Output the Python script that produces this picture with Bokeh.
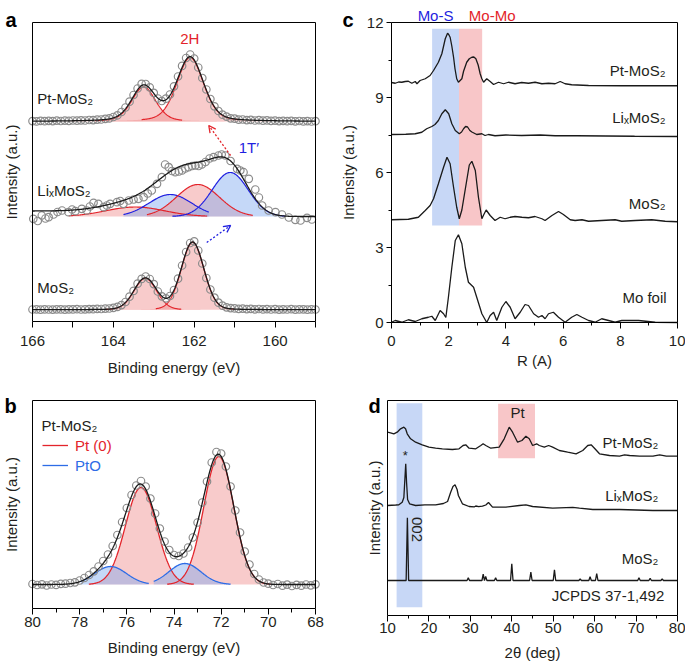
import numpy as np
from bokeh.plotting import figure
from bokeh.layouts import column, row
from bokeh.models import (Range1d, FixedTicker, Label, Arrow, OpenHead, Legend, LegendItem,
                          LinearAxis)
from bokeh.embed import file_html
from bokeh.resources import INLINE

FONT = "Liberation Sans"
TXT = "#231f20"
LINE = "#1a1a1a"
RED = "#e3242b"
BLUE_A = "#1f1fe0"
BLUE_B = "#2d6ce6"
CIRC = "#8c8c8c"
PINK = "#f08c8c"
LBLUE = "#7fa8ef"

# ---------------- panel a : S 2p XPS ----------------
a_x_ticks = [166, 164, 162, 160]
a_x_minor = [165, 163, 161, 159]
a_circle_energy = np.linspace(166.0, 159.0, 71)
a_pt_counts = [200.4, 200.1, 200.6, 200.3, 200.7, 200.4, 200.8, 200.5, 200.9, 200.6,
               201.0, 200.8, 201.2, 201.0, 201.5, 201.4, 201.9, 202.0, 202.6, 203.1,
               204.5, 206.2, 209.5, 214.0, 219.8, 226.5, 233.0, 237.6, 237.5, 234.2,
               228.6, 223.0, 220.5, 222.8, 227.0, 235.2, 245.0, 255.6, 263.5, 267.0,
               263.0, 254.0, 243.5, 232.0, 222.5, 215.2, 210.5, 206.8, 204.9, 203.2,
               202.8, 201.9, 202.0, 201.4, 201.6, 201.0, 201.3, 200.8, 201.1, 200.6,
               200.9, 200.4, 200.7, 200.3, 200.6, 200.2, 200.5, 200.1, 200.4, 200.0, 200.3]
a_mos_counts = [12.0, 12.2, 11.8, 12.1, 12.0, 11.9, 12.2, 12.1, 11.9, 12.2,
                12.1, 12.3, 12.0, 12.2, 12.4, 12.3, 12.6, 12.5, 12.9, 13.0,
                13.6, 14.6, 16.4, 19.5, 24.8, 30.6, 37.8, 42.6, 45.0, 42.5,
                37.4, 30.0, 25.2, 23.2, 25.5, 31.5, 42.8, 56.0, 69.5, 78.5,
                80.2, 71.0, 58.0, 43.5, 32.0, 23.8, 18.8, 15.8, 14.2, 13.4,
                13.1, 12.6, 12.8, 12.4, 12.6, 12.2, 12.5, 12.1, 12.4, 12.0,
                12.3, 11.9, 12.2, 12.0, 12.3, 11.9, 12.1, 12.2, 11.8, 12.1, 12.0]
a_li_energy = [165.98, 165.87, 165.77, 165.68, 165.60, 165.48, 165.38, 165.27, 165.11, 165.02,
               164.94, 164.78, 164.66, 164.58, 164.49, 164.37, 164.24, 164.16, 164.08, 163.91,
               163.83, 163.75, 163.62, 163.50, 163.38, 163.25, 163.15, 163.05, 162.92, 162.80,
               162.72, 162.63, 162.55, 162.47, 162.38, 162.30, 162.22, 162.14, 162.05, 161.97,
               161.89, 161.81, 161.72, 161.62, 161.52, 161.40, 161.32, 161.23, 161.10, 160.94,
               160.86, 160.78, 160.65, 160.49, 160.40, 160.32, 160.16, 159.99, 159.83, 159.66,
               159.50, 159.37, 159.21, 159.09]
a_li_counts = [102.7, 100.5, 106.0, 103.0, 104.3, 107.0, 109.5, 111.0, 109.3, 112.0,
               110.3, 112.7, 111.0, 115.0, 118.7, 117.7, 114.3, 116.0, 117.7, 119.3,
               120.5, 117.7, 121.0, 122.0, 122.7, 124.3, 128.0, 131.0, 137.7, 144.3,
               157.0, 154.3, 150.5, 149.3, 150.0, 151.0, 153.0, 154.3, 155.5, 156.0,
               155.5, 157.0, 159.5, 163.0, 164.3, 166.0, 167.0, 166.0, 160.5, 152.7,
               151.0, 149.3, 142.7, 132.0, 124.0, 116.0, 111.0, 109.3, 107.0, 104.0,
               101.7, 101.0, 103.7, 102.0]

# fitted components: centre (eV), height, FWHM (eV), Lorentzian fraction, drawn from / to (eV)
a_pt_base = 200.0
a_pt_center = [162.10, 163.25]
a_pt_height = [64.0, 34.6]
a_pt_fwhm = [0.78, 0.70]
a_pt_eta = [0.3, 0.3]
a_pt_from = [163.30, 164.45]
a_pt_to = [160.90, 162.30]

a_mos_base = 11.7
a_mos_center = [162.04, 163.21]
a_mos_height = [67.6, 31.5]
a_mos_fwhm = [0.66, 0.66]
a_mos_eta = [0.1, 0.1]
a_mos_from = [162.95, 164.20]
a_mos_to = [161.00, 162.32]

a_li_base = 105.0
a_li_step = 5.5
a_li_center = [163.46, 162.59, 161.91, 161.11]
a_li_height = [9.5, 22.0, 32.0, 44.0]
a_li_fwhm = [1.7, 1.25, 1.25, 1.05]
a_li_eta = [0.0, 0.0, 0.0, 0.0]
a_li_phase = ["2H", "1T'", "2H", "1T'"]
a_li_from = [165.10, 163.75, 163.17, 162.54]
a_li_to = [161.68, 161.64, 160.55, 159.75]

# ---------------- panel b : Pt 4f XPS ----------------
b_x_ticks = [80, 78, 76, 74, 72, 70, 68]
b_x_minor = [79, 77, 75, 73, 71, 69]
b_circle_energy = np.linspace(80.0, 68.0, 61)
b_counts = [24.5, 23.5, 24.2, 23.0, 24.0, 23.6, 24.6, 24.8, 25.5, 26.2,
            28.0, 30.5, 33.5, 37.2, 42.0, 47.5, 54.0, 62.5, 73.5, 86.5,
            100.5, 113.5, 123.0, 127.5, 122.0, 110.0, 95.0, 80.0, 67.0, 58.5,
            53.5, 52.5, 55.0, 61.0, 71.0, 86.0, 106.0, 127.0, 146.0, 156.5,
            155.0, 142.0, 122.0, 98.0, 76.0, 57.0, 44.0, 34.5, 29.0, 26.0,
            24.8, 23.5, 24.5, 22.8, 23.8, 22.5, 23.6, 22.8, 24.0, 23.2, 24.2]
b_base = 24.0
b_center = [72.10, 75.40, 76.69, 73.54]
b_height = [128.0, 97.0, 18.0, 21.0]
b_fwhm = [1.50, 1.55, 1.60, 1.60]
b_species = ["Pt (0)", "Pt (0)", "PtO", "PtO"]
b_from = [74.29, 77.61, 77.96, 74.86]
b_to = [69.90, 73.16, 75.07, 71.60]

# ---------------- panel c : EXAFS ----------------
c_y_ticks = [0, 3, 6, 9, 12]
c_y_minor = [1.5, 4.5, 7.5, 10.5]
c_x_ticks = [0, 2, 4, 6, 8, 10]
c_x_minor = [1, 3, 5, 7, 9]
c_pt_r = [0.0, 0.13, 0.25, 0.36, 0.48, 0.59, 0.71, 0.83, 0.89, 1.00, 1.18, 1.35, 1.47, 1.64, 1.76,
          1.82, 1.88, 1.96, 2.00, 2.05, 2.11, 2.17, 2.22, 2.28, 2.34, 2.46, 2.52, 2.63, 2.72, 2.81,
          2.88, 2.95, 3.03, 3.10, 3.16, 3.22, 3.33, 3.45, 3.57, 3.74, 3.92, 4.09, 4.32, 4.55, 4.79,
          5.02, 5.26, 5.49, 5.72, 5.90, 6.07, 6.30, 6.89, 8.05, 10.0]
c_pt_y = [9.60, 9.57, 9.62, 9.61, 9.64, 9.65, 9.57, 9.64, 9.55, 9.68, 9.75, 9.88, 10.08, 10.41, 10.75,
          11.05, 11.35, 11.57, 11.52, 11.41, 11.05, 10.61, 10.15, 9.75, 9.61, 9.75, 10.05, 10.41, 10.55, 10.61,
          10.62, 10.55, 10.30, 9.95, 9.75, 9.61, 9.75, 9.64, 9.52, 9.61, 9.55, 9.61, 9.55, 9.60, 9.57,
          9.61, 9.55, 9.57, 9.55, 9.64, 9.55, 9.51, 9.48, 9.47, 9.47]
c_li_r = [0.0, 0.5, 0.83, 1.06, 1.23, 1.41, 1.52, 1.64, 1.76, 1.88, 2.00, 2.11, 2.23, 2.37, 2.45,
          2.52, 2.59, 2.66, 2.74, 2.81, 2.98, 3.16, 3.27, 3.39, 3.62, 4.0, 4.55, 5.2, 5.72, 6.5,
          7.5, 8.5, 10.0]
c_li_y = [7.52, 7.53, 7.55, 7.61, 7.75, 7.84, 7.92, 8.08, 8.35, 8.51, 8.35, 7.95, 7.68, 7.55, 7.62,
          7.75, 7.84, 7.82, 7.68, 7.62, 7.52, 7.55, 7.48, 7.52, 7.47, 7.50, 7.48, 7.50, 7.47, 7.47,
          7.46, 7.45, 7.44]
c_mos_r = [0.0, 0.59, 0.94, 1.18, 1.35, 1.47, 1.64, 1.82, 1.94, 2.05, 2.17, 2.28, 2.37, 2.46, 2.63,
           2.72, 2.81, 2.93, 3.04, 3.16, 3.22, 3.31, 3.45, 3.62, 3.80, 3.97, 4.15, 4.32, 4.56, 4.79,
           5.02, 5.26, 5.37, 5.61, 5.84, 6.01, 6.25, 6.42, 6.66, 6.89, 7.35, 7.82, 8.05, 8.52, 9.10,
           9.57, 10.0]
c_mos_y = [4.11, 4.13, 4.21, 4.48, 4.68, 4.95, 5.55, 6.21, 6.61, 6.35, 5.41, 4.61, 4.15, 4.50, 5.68,
           6.30, 6.45, 6.08, 5.01, 4.15, 4.30, 4.50, 4.28, 4.08, 4.21, 4.15, 4.21, 4.24, 4.21, 4.19,
           4.24, 4.15, 4.08, 4.28, 4.44, 4.32, 4.11, 4.08, 4.11, 4.05, 4.08, 4.11, 4.05, 4.08, 4.11,
           4.05, 4.03]
c_mo_r = [0.0, 0.13, 0.36, 0.59, 0.83, 1.06, 1.29, 1.41, 1.53, 1.70, 1.82, 1.90, 1.99, 2.11, 2.23,
          2.34, 2.46, 2.58, 2.69, 2.87, 2.98, 3.16, 3.33, 3.45, 3.57, 3.68, 3.86, 4.0, 4.15, 4.32,
          4.50, 4.67, 4.79, 4.97, 5.14, 5.26, 5.37, 5.49, 5.66, 5.84, 6.07, 6.30, 6.48, 6.66, 6.89,
          7.12, 7.35, 7.59, 7.82, 8.05, 8.29, 8.64, 9.22, 10.0]
c_mo_y = [0.01, 0.08, 0.01, 0.11, 0.04, 0.15, 0.21, 0.25, 0.08, 0.48, 0.35, 0.20, 1.01, 2.21, 3.28,
          3.51, 3.15, 2.21, 1.61, 1.41, 1.01, 0.35, 0.0, 0.28, 0.41, 0.08, 0.61, 0.84, 0.61, 0.15,
          0.41, 0.72, 0.68, 0.35, 0.21, 0.28, 0.15, 0.35, 0.41, 0.21, 0.01, 0.21, 0.32, 0.21, 0.08,
          0.01, 0.15, 0.08, 0.01, 0.08, 0.08, 0.08, 0.01, 0.0]
c_band_mos = [1.42, 2.36]
c_band_momo = [2.36, 3.17]
c_band_y = [3.88, 11.75]

# ---------------- panel d : XRD ----------------
d_x_ticks = [10, 20, 30, 40, 50, 60, 70, 80]
d_x_minor = [15, 25, 35, 45, 55, 65, 75]
d_pt_tt = [10, 10.73, 11.53, 12.34, 13.15, 13.95, 14.36, 14.76, 15.57, 16.78, 18.39, 20.01, 21.62, 23.24, 25.66,
           27.27, 28.24, 28.89, 29.69, 31.31, 32.52, 33.08, 33.73, 34.94, 36.96, 38.17, 39.38, 40.19, 41.40, 42.45,
           43.41, 44.22, 45.03, 46.0, 46.64, 47.85, 48.9, 49.87, 51.48, 53.5, 55.52, 57.13, 58.34, 59.15, 59.96,
           61.17, 63.59, 66.01, 67.22, 68.43, 70.85, 74.07, 75.69, 77.3, 80]
d_pt_y = [183.3, 182.7, 181.7, 183.3, 186.7, 188.3, 186.7, 181.7, 176.7, 173.3, 170.7, 168.3, 167.3, 166.7, 166.0,
          166.7, 170.0, 170.7, 167.3, 166.7, 170.0, 171.7, 170.0, 167.3, 168.3, 176.7, 188.3, 183.3, 173.3, 175.0,
          179.3, 176.7, 170.0, 171.7, 170.0, 168.3, 170.0, 168.3, 165.0, 163.3, 161.7, 165.0, 170.0, 170.7, 167.3,
          161.7, 160.0, 159.3, 160.7, 160.0, 159.3, 159.3, 160.7, 159.3, 159.3]
d_li_tt = [10, 12.0, 12.74, 13.55, 13.95, 14.2, 14.4, 14.6, 14.85, 15.33, 16.78, 19.0, 21.62, 23.5, 24.5,
           25.25, 25.8, 26.3, 26.8, 27.11, 28.08, 29.69, 31.0, 31.31, 32.0, 32.92, 33.73, 34.38, 35.35, 38.58,
           41.81, 43.41, 45.03, 49.87, 54.71, 56.33, 59.56, 66.01, 74.07, 80]
d_li_y = [110.0, 110.5, 110.7, 113.3, 118.0, 136.7, 151.7, 133.3, 116.0, 111.7, 110.0, 110.7, 110.7, 112.0, 114.0,
          123.3, 129.0, 130.7, 126.0, 120.0, 111.7, 109.0, 108.7, 109.5, 108.8, 109.3, 110.5, 113.0, 108.3, 108.3,
          110.0, 110.7, 109.0, 107.3, 108.2, 107.3, 106.0, 106.0, 105.0, 105.0]
d_mos_base = 35.0
d_mos_peak_pos = [14.8, 29.5, 33.1, 33.7, 36.1, 40.0, 44.6, 50.3, 56.5, 58.9, 60.5, 70.7, 73.4, 76.3]
d_mos_peak_top = [97.7, 37.7, 41.3, 39.0, 37.7, 51.7, 43.3, 45.7, 36.7, 38.7, 42.0, 37.7, 37.3, 36.7]
d_band_002 = [12.2, 18.4]
d_band_002_y = [8.3, 212.3]
d_band_pt = [36.7, 45.6]
d_band_pt_y = [157.3, 211.7]


def pv(x, c, h, w, eta):
    r2 = 4.0 * ((np.asarray(x) - c) / w) ** 2
    return h * ((1.0 - eta) * np.exp(-np.log(2.0) * r2) + eta / (1.0 + r2))


def style_axis(ax, tick_out=6, minor_out=4, lab_so=3, title_so=8):
    ax.axis_line_color = "black"
    ax.major_tick_line_color = "black"
    ax.minor_tick_line_color = "black"
    ax.major_tick_in = 0
    ax.minor_tick_in = 0
    ax.major_tick_out = tick_out
    ax.minor_tick_out = minor_out
    ax.major_label_text_font = FONT
    ax.major_label_text_font_size = "15px"
    ax.major_label_text_color = TXT
    ax.axis_label_text_font = FONT
    ax.axis_label_text_font_size = "15px"
    ax.axis_label_text_font_style = "normal"
    ax.axis_label_text_color = TXT
    ax.major_label_standoff = lab_so
    ax.axis_label_standoff = title_so


def panel(W, H, box_x, box_px, box_y, box_py):
    """Figure whose plotting frame fills the whole canvas; the boxed plot area
    box_x (left value, right value) sits at pixels box_px, box_y (bottom, top) at box_py."""
    (x0, x1), (px0, px1) = box_x, box_px
    (y0, y1), (py0, py1) = box_y, box_py
    sx = (px1 - px0) / (x1 - x0)
    sy = (py0 - py1) / (y1 - y0)
    xr = Range1d(x0 - px0 / sx, x1 + (W - px1) / sx)
    yr = Range1d(y0 - (H - py0) / sy, y1 + py1 / sy)
    p = figure(width=W, height=H, x_range=xr, y_range=yr, min_border=0, title=None,
               output_backend="svg", toolbar_location=None, tools="")
    p.xgrid.visible = False
    p.ygrid.visible = False
    p.outline_line_color = None
    p.background_fill_color = "white"
    p.border_fill_color = "white"
    xa, ya = p.below[0], p.left[0]
    xa.fixed_location = y0
    xa.bounds = (min(x0, x1), max(x0, x1))
    ya.fixed_location = x0
    ya.bounds = (y0, y1)
    style_axis(xa)
    style_axis(ya)
    top = LinearAxis(fixed_location=y1, bounds=(min(x0, x1), max(x0, x1)), ticker=FixedTicker(ticks=[]),
                     major_tick_line_color=None, minor_tick_line_color=None, axis_line_color="black")
    right = LinearAxis(fixed_location=x1, bounds=(y0, y1), ticker=FixedTicker(ticks=[]),
                       major_tick_line_color=None, minor_tick_line_color=None, axis_line_color="black")
    p.add_layout(top, "above")
    p.add_layout(right, "right")
    return p, xa, ya


def no_y_ticks(ya, standoff):
    ya.ticker = FixedTicker(ticks=[])
    ya.major_tick_line_color = None
    ya.minor_tick_line_color = None
    ya.major_tick_out = 0
    ya.minor_tick_out = 0
    ya.major_label_standoff = 0
    ya.axis_label = "Intensity (a.u.)"
    ya.axis_label_standoff = standoff


def lab(p, x, y, text, color=TXT, size="15px", align="left", baseline="middle", bold=False, angle=0.0):
    p.add_layout(Label(x=x, y=y, text=text, text_color=color, text_font=FONT, text_font_size=size,
                       text_align=align, text_baseline=baseline,
                       text_font_style="bold" if bold else "normal", angle=angle))


# ================= panel a =================
pa, pa_x, pa_y = panel(340, 380, (166, 159), (32, 315), (0, 299), (321, 22))
pa_x.ticker = FixedTicker(ticks=a_x_ticks, minor_ticks=a_x_minor)
pa_x.minor_tick_out = 6
pa_x.major_label_standoff = 8
pa_x.axis_label_standoff = 10
pa_x.axis_label = "Binding energy (eV)"
no_y_ticks(pa_y, 13)

xg = np.linspace(166.0, 159.0, 701)


def draw_a(base, centers, heights, fwhms, etas, froms, tos, colors, widefill, step=0.0):
    total = np.zeros_like(xg)
    for c, h, w, e, f, t, col in zip(centers, heights, fwhms, etas, froms, tos, colors):
        fill = PINK if col == RED else LBLUE
        if widefill:
            xf = np.linspace(min(c + 2.0, 166.0), max(c - 2.0, 159.0), 300)
        else:
            xf = np.linspace(f, t, 300)
        pa.varea(x=xf, y1=np.full_like(xf, base), y2=base + pv(xf, c, h, w, e),
                 fill_color=fill, fill_alpha=0.45)
        total += pv(xg, c, h, w, e)
    for c, h, w, e, f, t, col in zip(centers, heights, fwhms, etas, froms, tos, colors):
        xl = np.linspace(f, t, 200)
        pa.line(xl, base + pv(xl, c, h, w, e), line_color=col, line_width=1.2)
    if step:
        cum = np.cumsum(total[::-1])[::-1]
        bg = step * cum / cum[0]
    else:
        bg = 0.0
    return base + total + bg


env_pt = draw_a(a_pt_base, a_pt_center, a_pt_height, a_pt_fwhm, a_pt_eta, a_pt_from, a_pt_to,
                [RED, RED], True)
env_li = draw_a(a_li_base, a_li_center, a_li_height, a_li_fwhm, a_li_eta, a_li_from, a_li_to,
                [RED if ph == "2H" else BLUE_A for ph in a_li_phase], False, a_li_step)
env_mos = draw_a(a_mos_base, a_mos_center, a_mos_height, a_mos_fwhm, a_mos_eta, a_mos_from, a_mos_to,
                 [RED, RED], True)

for ex, cy in [(a_circle_energy, a_pt_counts), (a_li_energy, a_li_counts), (a_circle_energy, a_mos_counts)]:
    pa.scatter(ex, cy, marker="circle", size=7.5, fill_color=None, line_color=CIRC, line_width=1.2)
for env in (env_pt, env_li, env_mos):
    pa.line(xg, env, line_color=LINE, line_width=1.3)

lab(pa, 165.88, 223, "Pt-MoS₂")
lab(pa, 165.88, 131, "LiₓMoS₂")
lab(pa, 165.88, 34, "MoS₂")
lab(pa, 162.11, 283, "2H", color=RED, align="center")
lab(pa, 160.65, 174, "1T′", color=BLUE_A, align="center")
pa.add_layout(Arrow(end=OpenHead(size=7, line_color=RED, line_width=1.3),
                    x_start=161.10, y_start=166, x_end=161.64, y_end=196,
                    line_color=RED, line_width=1.3, line_dash="2 2"))
pa.add_layout(Arrow(end=OpenHead(size=7, line_color=BLUE_A, line_width=1.3),
                    x_start=161.69, y_start=79, x_end=161.10, y_end=96,
                    line_color=BLUE_A, line_width=1.3, line_dash="2 2"))
lab(pa, 166.67, 302, "a", size="20px", bold=True, baseline="alphabetic", color="black")

# ================= panel c =================
pc, pc_x, pc_y = panel(345, 380, (0, 10), (51, 337), (0, 12), (322, 22))
pc_x.ticker = FixedTicker(ticks=c_x_ticks, minor_ticks=c_x_minor)
pc_y.ticker = FixedTicker(ticks=c_y_ticks, minor_ticks=c_y_minor)
pc_y.major_tick_out = 5
pc_y.minor_tick_out = 3
pc_y.axis_label_standoff = 7
pc_x.minor_tick_out = 3
pc_x.major_label_standoff = 7
pc_x.axis_label_standoff = 3
pc_x.axis_label = "R (A)"
pc_y.axis_label = "Intensity (a.u.)"
pc.quad(left=[c_band_mos[0]], right=[c_band_mos[1]], bottom=[c_band_y[0]], top=[c_band_y[1]],
        fill_color="#c7d7f6", line_color=None)
pc.quad(left=[c_band_momo[0]], right=[c_band_momo[1]], bottom=[c_band_y[0]], top=[c_band_y[1]],
        fill_color="#f8c6c8", line_color=None)
for rr, yy in [(c_pt_r, c_pt_y), (c_li_r, c_li_y), (c_mos_r, c_mos_y), (c_mo_r, c_mo_y)]:
    pc.line(rr, yy, line_color=LINE, line_width=1.3)
lab(pc, 9.58, 10.08, "Pt-MoS₂", align="right")
lab(pc, 9.58, 8.2, "LiₓMoS₂", align="right")
lab(pc, 9.58, 4.76, "MoS₂", align="right")
lab(pc, 9.62, 1.0, "Mo foil", align="right")
lab(pc, 1.54, 12.28, "Mo-S", color=BLUE_A, align="center")
lab(pc, 3.52, 12.28, "Mo-Mo", color=RED, align="center")
lab(pc, -1.71, 12.12, "c", size="20px", bold=True, baseline="alphabetic", color="black")

# ================= panel b =================
pb, pb_x, pb_y = panel(340, 286, (80, 68), (32, 315), (0, 208), (228, 20))
pb_x.ticker = FixedTicker(ticks=b_x_ticks, minor_ticks=b_x_minor)
pb_x.major_label_standoff = 2
pb_x.axis_label_standoff = 9
pb_x.axis_label = "Binding energy (eV)"
no_y_ticks(pb_y, 13)
xb = np.linspace(80.0, 68.0, 601)
b_total = np.zeros_like(xb)
b_lines = {}
for c, h, w, sp, f, t in zip(b_center, b_height, b_fwhm, b_species, b_from, b_to):
    xf = np.linspace(f, t, 300)
    pb.varea(x=xf, y1=np.full_like(xf, b_base), y2=b_base + pv(xf, c, h, w, 0.0),
             fill_color=PINK if sp == "Pt (0)" else LBLUE, fill_alpha=0.45)
    b_total += pv(xb, c, h, w, 0.0)
for c, h, w, sp, f, t in zip(b_center, b_height, b_fwhm, b_species, b_from, b_to):
    xl = np.linspace(f, t, 200)
    r = pb.line(xl, b_base + pv(xl, c, h, w, 0.0), line_color=RED if sp == "Pt (0)" else BLUE_B,
                line_width=1.3)
    b_lines.setdefault(sp, r)
pb.scatter(b_circle_energy, b_counts, marker="circle", size=7.5, fill_color=None, line_color=CIRC, line_width=1.2)
pb.line(xb, b_base + b_total, line_color=LINE, line_width=1.3)
lab(pb, 79.62, 183, "Pt-MoS₂")
for sp, loc, col in [("Pt (0)", (42, 211), RED), ("PtO", (42, 191), BLUE_B)]:
    leg = Legend(items=[LegendItem(label=sp, renderers=[b_lines[sp]])], location=loc,
                 background_fill_alpha=0, border_line_alpha=0, padding=0, margin=0, spacing=0,
                 glyph_width=26, glyph_height=20, label_height=20, label_standoff=7,
                 label_text_color=col, label_text_font=FONT, label_text_font_size="15px")
    pb.add_layout(leg)
lab(pb, 81.19, 203, "b", size="20px", bold=True, baseline="alphabetic", color="black")

# ================= panel d =================
pd, pd_x, pd_y = panel(345, 286, (10, 80), (47, 337), (0, 215), (235, 20))
pd_x.ticker = FixedTicker(ticks=d_x_ticks, minor_ticks=d_x_minor)
pd_x.minor_tick_out = 3
pd_x.major_label_standoff = 1
pd_x.axis_label_standoff = 8
pd_x.axis_label = "2θ (deg)"
no_y_ticks(pd_y, 5)
pd.quad(left=[d_band_002[0]], right=[d_band_002[1]], bottom=[d_band_002_y[0]], top=[d_band_002_y[1]],
        fill_color="#c7d7f6", line_color=None)
pd.quad(left=[d_band_pt[0]], right=[d_band_pt[1]], bottom=[d_band_pt_y[0]], top=[d_band_pt_y[1]],
        fill_color="#f8c6c8", line_color=None)
mx, my = [10.0], [d_mos_base]
for pos, top in zip(d_mos_peak_pos, d_mos_peak_top):
    mx += [pos - 0.3, pos, pos + 0.3]
    my += [d_mos_base, top, d_mos_base]
mx.append(80.0)
my.append(d_mos_base)
pd.line(d_pt_tt, d_pt_y, line_color=LINE, line_width=1.3)
pd.line(d_li_tt, d_li_y, line_color=LINE, line_width=1.3)
pd.line(mx, my, line_color=LINE, line_width=1.3)
lab(pd, 75.4, 173, "Pt-MoS₂", align="right")
lab(pd, 75.4, 120, "LiₓMoS₂", align="right")
lab(pd, 75.4, 57, "MoS₂", align="right")
lab(pd, 76.8, 20, "JCPDS 37-1,492", align="right")
lab(pd, 41.4, 203, "Pt", align="center")
lab(pd, 14.3, 160, "*", align="center", size="13px")
lab(pd, 17.0, 86, "002", align="center", angle=-np.pi / 2)
lab(pd, 5.41, 210, "d", size="20px", bold=True, baseline="alphabetic", color="black")

layout = column(row(pa, pc, spacing=0), row(pb, pd, spacing=0), spacing=0)
open("out.html", "w").write(file_html(layout, INLINE))
